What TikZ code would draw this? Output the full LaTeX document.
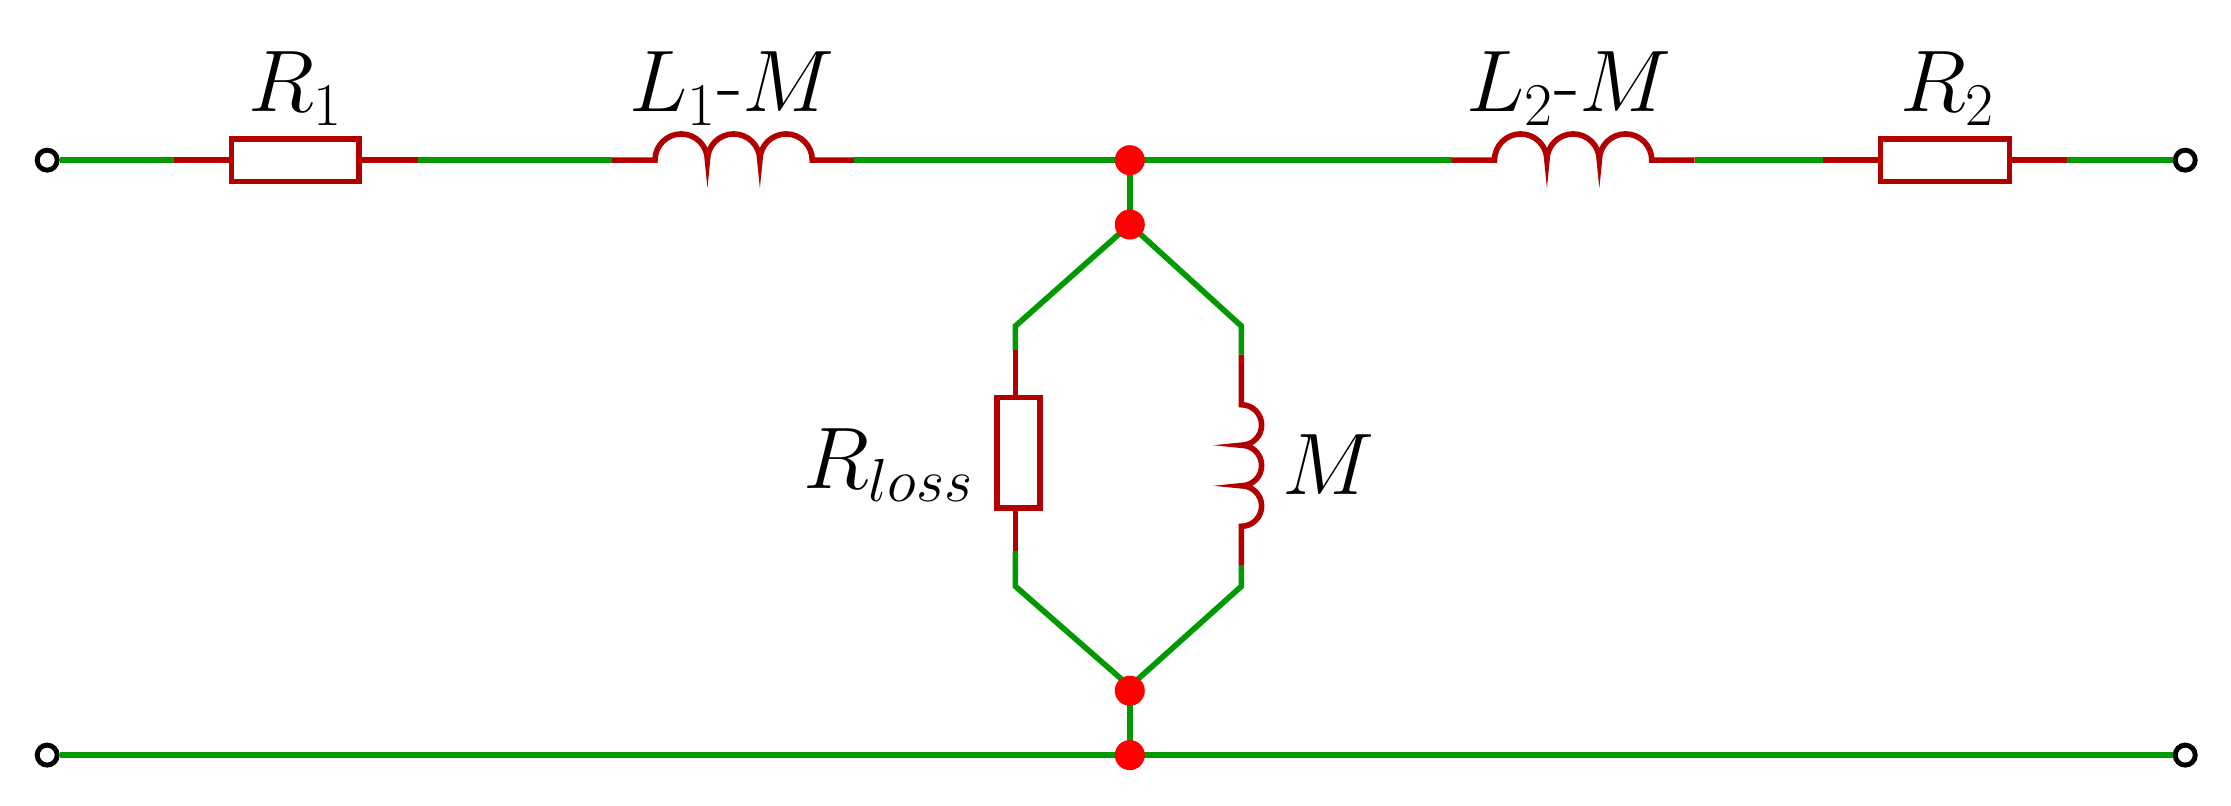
\documentclass[tikz,border=0pt]{standalone}
\begin{document}
\begin{tikzpicture}[x=0.014301cm,y=-0.014301cm,
  gw/.style={draw=green!60!black,line width=1.6pt},
  rw/.style={draw=red!70!black,line width=1.6pt},
  term/.style={circle,draw=black,fill=white,line width=1.4pt,minimum size=0.2cm,inner sep=0pt},
  jdot/.style={circle,fill=red,minimum size=0.3cm,inner sep=0pt},
  lab/.style={font=\fontsize{24}{28}\selectfont}]
\useasboundingbox (0,0) rectangle (1560,563);
% terminals
\node[term] (tl) at (33,112) {};
\node[term] (tr) at (1528,112) {};
\node[term] (bl) at (33,528) {};
\node[term] (br) at (1528,528) {};
% coordinates
\coordinate (r1a) at (122,112); \coordinate (r1b) at (292,112);
\coordinate (l1a) at (428,112); \coordinate (l1b) at (597,112);
\coordinate (l2a) at (1015,112); \coordinate (l2b) at (1185,112);
\coordinate (r2a) at (1275,112); \coordinate (r2b) at (1445,112);
\coordinate (jt) at (790,112);
\coordinate (jb) at (790,528);
\coordinate (lt) at (710,228); \coordinate (lb) at (710,410);
\coordinate (rt) at (868,228); \coordinate (rb) at (868,410);
% green wires
\draw[gw] (tl) -- (r1a) (r1b) -- (l1a) (l1b) -- (jt) -- (l2a) (l2b) -- (r2a) (r2b) -- (tr);
\draw[gw] (bl) -- (jb) -- (br);
\draw[gw] (jt) -- (790,157);
\draw[gw] (790,157) -- (lt) -- (710,245);
\draw[gw] (790,157) -- (rt) -- (868,248);
\draw[gw] (710,385) -- (lb) -- (790,480) -- (rb) -- (868,395);
\draw[gw] (790,483) -- (jb);
% R1
\draw[rw] (r1a) -- (162,112) (251,112) -- (r1b);
\node[rw,draw,fill=white,minimum width=89*0.014301cm,minimum height=30*0.014301cm,inner sep=0pt] (R1) at (206.5,112) {};
% R2
\draw[rw] (r2a) -- (1315,112) (1405,112) -- (r2b);
\node[rw,draw,fill=white,minimum width=90*0.014301cm,minimum height=30*0.014301cm,inner sep=0pt] (R2) at (1360,112) {};
% L1
\draw[rw] (l1a) -- (458,112) arc(180:360:18.33) arc(180:360:18.33) arc(180:360:18.33) -- (l1b);
% L2
\draw[rw] (l2a) -- (1045,112) arc(180:360:18.33) arc(180:360:18.33) arc(180:360:18.33) -- (l2b);
% Rloss
\draw[rw] (710,245) -- (710,278) (710,355) -- (710,385);
\node[rw,draw,fill=white,minimum width=30*0.014301cm,minimum height=77*0.014301cm,inner sep=0pt] (RL) at (712,316.5) {};
% M
\draw[rw] (868,248) -- (868,283) arc(-90:90:14.17) arc(-90:90:14.17) arc(-90:90:14.17) -- (868,395);
% dots
\node[jdot] (d1) at (jt) {};
\node[jdot] (d2) at (790,157) {};
\node[jdot] (d3) at (790,483) {};
\node[jdot] (d4) at (jb) {};
% labels
\node[lab] (tR1) at (207,62) {$R_1$};
\node[lab] (tL1) at (512,62) {$L_1$-$M$};
\node[lab] (tL2) at (1097,62) {$L_2$-$M$};
\node[lab] (tR2) at (1362,62) {$R_2$};
\node[lab,anchor=east] (tRL) at (690,325) {$R_{loss}$};
\node[lab,anchor=west] (tM) at (888,325) {$M$};
\end{tikzpicture}
\end{document}
